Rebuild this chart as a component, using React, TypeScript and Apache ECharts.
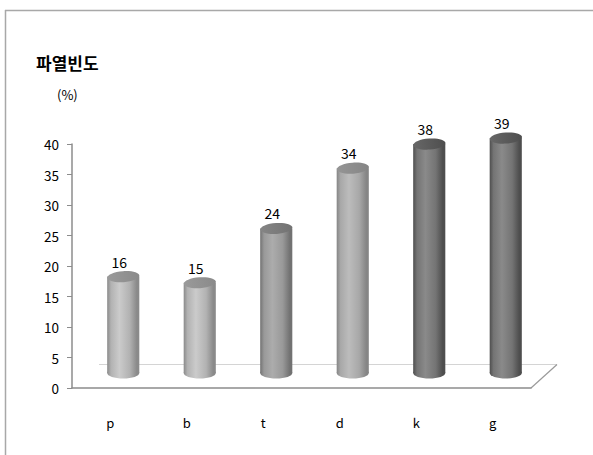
import React, { useEffect, useRef } from "react";
import * as echarts from "echarts";

// Rupture frequency (%) by stop consonant
const categories = ["p", "b", "t", "d", "k", "g"];
const frequency = [16, 15, 24, 34, 38, 39];
const yTicks = { min: 0, max: 40, interval: 5 };

// Cylinder shading per bar: [edge, mid, highlight, cap]
const tones: string[][] = [
  ["#8a8a8a", "#b2b2b2", "#cbcbcb", "#9a9a9a"],
  ["#8a8a8a", "#b2b2b2", "#cbcbcb", "#9a9a9a"],
  ["#727272", "#999999", "#acacac", "#858585"],
  ["#858585", "#a8a8a8", "#bcbcbc", "#959595"],
  ["#4e4e4e", "#747474", "#8a8a8a", "#676767"],
  ["#4e4e4e", "#747474", "#8a8a8a", "#676767"],
];

const FONT = "'Noto Sans CJK KR', 'Noto Sans', sans-serif";

function bodyGradient(t: string[]) {
  return new echarts.graphic.LinearGradient(0, 0, 1, 0, [
    { offset: 0, color: t[0] },
    { offset: 0.12, color: t[1] },
    { offset: 0.38, color: t[2] },
    { offset: 0.7, color: t[1] },
    { offset: 0.92, color: t[0] },
    { offset: 1, color: t[0] },
  ]);
}

export default function App() {
  const ref = useRef<HTMLDivElement>(null);

  useEffect(() => {
    if (!ref.current) return;
    const chart = echarts.init(ref.current, undefined, { renderer: "svg" });

    const renderCylinder = (params: any, api: any) => {
      const idx = api.value(0);
      const val = api.value(1);
      const top = api.coord([idx, val]);
      const base = api.coord([idx, 0]);
      const w = api.size([1, 0])[0] * 0.42;
      const rx = w / 2;
      const ry = 5.5;
      const t = tones[idx % tones.length];
      const grad = bodyGradient(t);
      const cx = top[0];
      return {
        type: "group",
        children: [
          {
            type: "ellipse",
            shape: { cx, cy: base[1], rx, ry },
            style: { fill: grad },
          },
          {
            type: "rect",
            shape: { x: cx - rx, y: top[1], width: w, height: base[1] - top[1] },
            style: { fill: grad },
          },
          {
            type: "ellipse",
            shape: { cx, cy: top[1], rx, ry },
            originX: cx,
            originY: top[1],
            rotation: 0.07,
            style: {
              fill: new echarts.graphic.LinearGradient(0, 0, 1, 0, [
                { offset: 0, color: t[3] },
                { offset: 1, color: t[0] },
              ]),
            },
          },
          {
            type: "text",
            x: cx - 4,
            y: top[1] - 15,
            style: {
              text: String(val),
              fill: "#000",
              font: `14px ${FONT}`,
              align: "center",
              verticalAlign: "middle",
            },
          },
        ],
      };
    };

    chart.setOption({
      animation: false,
      backgroundColor: "#fff",
      grid: [
        { left: 72, top: 144, width: 459, height: 244 },
        { left: 85, top: 132, width: 459, height: 241 },
      ],
      xAxis: [
        {
          type: "category",
          gridIndex: 0,
          data: categories,
          boundaryGap: true,
          axisLine: { lineStyle: { color: "#8c8c8c", width: 1.5 } },
          axisTick: { length: 7, alignWithLabel: false, lineStyle: { color: "#8c8c8c" } },
          axisLabel: { margin: 28, fontSize: 13, color: "#000", fontFamily: FONT },
        },
        {
          type: "category",
          gridIndex: 1,
          data: categories,
          show: false,
        },
      ],
      yAxis: [
        {
          type: "value",
          gridIndex: 0,
          min: yTicks.min,
          max: yTicks.max,
          interval: yTicks.interval,
          axisLine: { show: true, lineStyle: { color: "#8c8c8c", width: 1.5 } },
          axisTick: { show: true, length: 5, lineStyle: { color: "#8c8c8c" } },
          axisLabel: { margin: 13, fontSize: 13.5, color: "#000", fontFamily: FONT },
          splitLine: { show: false },
        },
        {
          type: "value",
          gridIndex: 1,
          min: yTicks.min,
          max: yTicks.max,
          interval: yTicks.interval,
          show: false,
          splitLine: { show: false },
        },
      ],
      graphic: [
        // frame
        { type: "line", shape: { x1: 5, y1: 10.5, x2: 593, y2: 10.5 }, style: { stroke: "#a8a8a8", lineWidth: 1.5 } },
        { type: "line", shape: { x1: 5.5, y1: 10, x2: 5.5, y2: 455 }, style: { stroke: "#a8a8a8", lineWidth: 1.5 } },
        // floor back edge and side
        { type: "line", z: 0, shape: { x1: 99, y1: 364.5, x2: 557, y2: 364.5 }, style: { stroke: "#d4d4d4", lineWidth: 1 } },
        { type: "line", shape: { x1: 531, y1: 388, x2: 557, y2: 364.5 }, style: { stroke: "#9a9a9a", lineWidth: 1.2 } },
        // titles
        {
          type: "text",
          left: 36,
          top: 54,
          style: { text: "파열빈도", fill: "#000", font: `bold 17px ${FONT}` },
        },
        {
          type: "text",
          left: 57,
          top: 88,
          style: { text: "(%)", fill: "#000", font: `13px ${FONT}` },
        },
      ],
      series: [
        {
          type: "custom",
          xAxisIndex: 1,
          yAxisIndex: 1,
          z: 5,
          renderItem: renderCylinder,
          encode: { x: 0, y: 1 },
          data: frequency.map((v, i) => [i, v]),
        },
      ],
    });

    return () => chart.dispose();
  }, []);

  return (
    <div
      ref={ref}
      style={{ position: "fixed", left: 0, top: 0, width: 593, height: 455 }}
    />
  );
}
